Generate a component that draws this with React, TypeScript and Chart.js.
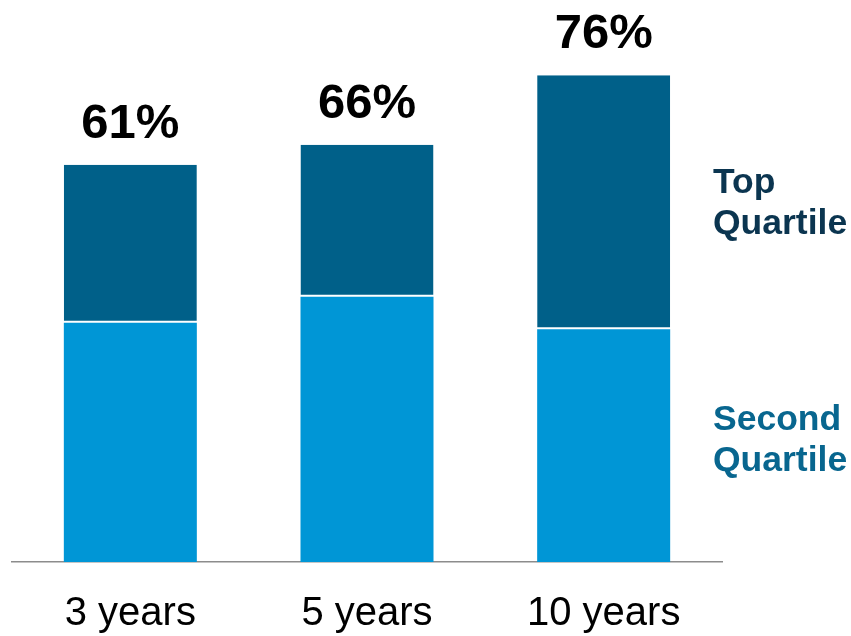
import React, { useEffect, useRef } from "react";
import { Chart, registerables } from "chart.js";

Chart.register(...registerables);

const categories = ["3 years", "5 years", "10 years"];
const secondQuartile = [36.8, 40.8, 35.8];
const topQuartile = [24.3, 23.4, 39.1];
const totalLabels = ["61%", "66%", "76%"];
const legendTop = ["Top", "Quartile"];
const legendSecond = ["Second", "Quartile"];

const FONT = "Arial, 'Liberation Sans', Helvetica, sans-serif";

const totalsPlugin = {
  id: "totals",
  afterDatasetsDraw(chart: any) {
    const ctx = chart.ctx;
    const meta = chart.getDatasetMeta(1);
    ctx.save();
    ctx.font = `bold 49px ${FONT}`;
    ctx.fillStyle = "#000000";
    ctx.textAlign = "center";
    ctx.textBaseline = "alphabetic";
    meta.data.forEach((bar: any, i: number) => {
      ctx.fillText(totalLabels[i], bar.x, bar.y - 27);
    });
    ctx.restore();
  },
};

const sideLabelsPlugin = {
  id: "sideLabels",
  afterDraw(chart: any) {
    const ctx = chart.ctx;
    const x = chart.chartArea.right - 9;
    ctx.save();
    ctx.font = `bold 35.5px ${FONT}`;
    ctx.textAlign = "left";
    ctx.textBaseline = "alphabetic";
    ctx.fillStyle = "#0b3550";
    ctx.fillText(legendTop[0], x, 193);
    ctx.fillText(legendTop[1], x, 234);
    ctx.fillStyle = "#08668f";
    ctx.fillText(legendSecond[0], x, 430);
    ctx.fillText(legendSecond[1], x, 471);
    ctx.restore();
  },
};

export default function App() {
  const ref = useRef<HTMLCanvasElement>(null);

  useEffect(() => {
    if (!ref.current) return;
    const chart = new Chart(ref.current, {
      type: "bar",
      data: {
        labels: categories,
        datasets: [
          {
            label: "Second Quartile",
            data: secondQuartile,
            backgroundColor: "#0096d6",
            borderWidth: 0,
          },
          {
            label: "Top Quartile",
            data: topQuartile,
            backgroundColor: "#006089",
            borderColor: "#ffffff",
            borderWidth: { top: 0, left: 0, right: 0, bottom: 2 },
            borderSkipped: false,
          },
        ],
      },
      options: {
        responsive: false,
        maintainAspectRatio: false,
        animation: false,
        layout: { padding: { left: 12, right: 129, top: 0, bottom: 0 } },
        plugins: {
          legend: { display: false },
          tooltip: { enabled: false },
        },
        datasets: {
          bar: { barPercentage: 0.562, categoryPercentage: 1 },
        },
        scales: {
          x: {
            stacked: true,
            grid: { display: false, drawTicks: false },
            border: { display: true, color: "#8c8c8c", width: 1.5 },
            ticks: {
              color: "#000000",
              font: { family: FONT, size: 40 },
              padding: 28,
              maxRotation: 0,
              autoSkip: false,
            },
            afterFit: (scale: any) => {
              scale.height = 74;
            },
          },
          y: {
            stacked: true,
            display: false,
            min: 0,
            max: 86.46,
          },
        },
      },
      plugins: [totalsPlugin, sideLabelsPlugin],
    });
    return () => chart.destroy();
  }, []);

  return (
    <div style={{ position: "fixed", left: 0, top: 0, width: 851, height: 636, background: "#fff" }}>
      <canvas ref={ref} width={851} height={636} />
    </div>
  );
}
